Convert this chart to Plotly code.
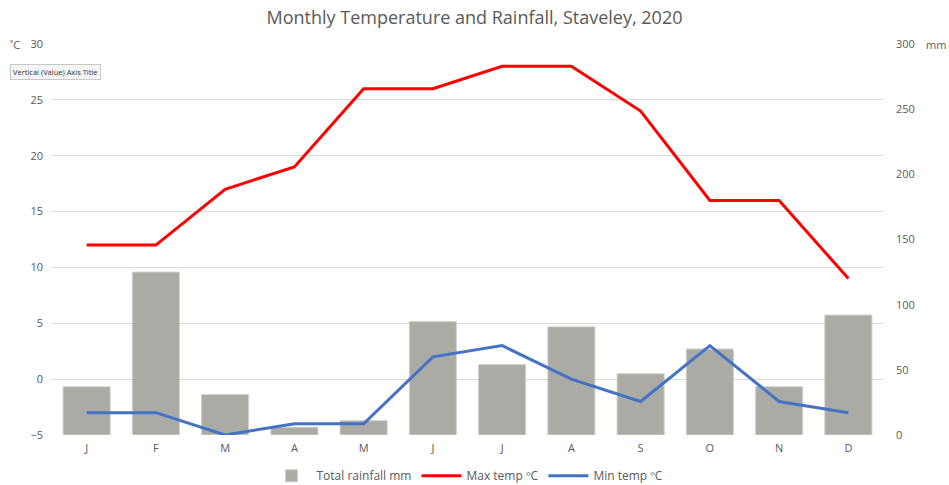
import plotly.graph_objects as go

months = ["J", "F", "M", "A", "M", "J", "J", "A", "S", "O", "N", "D"]
rainfall_mm = [37, 125, 31, 6, 11, 87, 54, 83, 47, 66, 37, 92]
max_temp = [12, 12, 17, 19, 26, 26, 28, 28, 24, 16, 16, 9]
min_temp = [-3, -3, -5, -4, -4, 2, 3, 0, -2, 3, -2, -3]

x = list(range(len(months)))
grey = "#595959"

fig = go.Figure()
fig.add_trace(go.Bar(
    x=x, y=rainfall_mm, name="Total rainfall mm", yaxis="y",
    marker=dict(color="#ABABA5", line=dict(color="#D0D0CC", width=1)),
))
fig.add_trace(go.Scatter(
    x=x, y=max_temp, name="Max temp ºC", mode="lines", yaxis="y2",
    line=dict(color="#FF0000", width=3),
))
fig.add_trace(go.Scatter(
    x=x, y=min_temp, name="Min temp ºC", mode="lines", yaxis="y2",
    line=dict(color="#4472C4", width=3),
))

fig.update_layout(
    width=949, height=485,
    margin=dict(l=52, r=66, t=44, b=50, autoexpand=False),
    paper_bgcolor="white", plot_bgcolor="white",
    font=dict(family="Open Sans, Liberation Sans, sans-serif", color=grey, size=11),
    title=dict(text="Monthly Temperature and Rainfall, Staveley, 2020",
               x=0.5, xanchor="center", y=0.963, yanchor="middle",
               font=dict(size=18, color=grey)),
    bargap=0.32,
    xaxis=dict(tickmode="array", tickvals=x, ticktext=months,
               range=[-0.5, 11.5], showgrid=False, zeroline=False,
               showline=False, ticks="", automargin=False, ticklabelstandoff=5,
               tickfont=dict(size=11, color=grey)),
    yaxis=dict(range=[0, 300], dtick=50, side="right",
               showgrid=False, zeroline=False, showline=False, ticks="",
               automargin=False, ticklabelstandoff=12,
               tickfont=dict(size=11, color=grey)),
    yaxis2=dict(range=[-5, 30], dtick=5, tick0=-5, overlaying="y", side="left",
                showgrid=True, gridcolor="#D9D9D9", gridwidth=1, zeroline=False,
                showline=False, ticks="", automargin=False, ticklabelstandoff=8,
                tickfont=dict(size=11, color=grey)),
    legend=dict(orientation="h", x=0.5, xanchor="center",
                yref="container", y=0.019, yanchor="middle",
                font=dict(size=12, color=grey), traceorder="normal",
                itemwidth=40),
    showlegend=True,
)

fig.add_annotation(text="˚C", xref="paper", yref="paper", x=-0.045, y=1.0,
                   xanchor="center", yanchor="middle", showarrow=False,
                   font=dict(size=11, color=grey))
fig.add_annotation(text="mm", xref="paper", yref="paper", x=1.064, y=1.0,
                   xanchor="center", yanchor="middle", showarrow=False,
                   font=dict(size=11, color=grey))
fig.add_annotation(text="Vertical (Value) Axis Title", xref="paper", yref="paper",
                   x=-0.051, y=0.928, xanchor="left", yanchor="middle",
                   showarrow=False, font=dict(size=7.5, color="#333333"),
                   bgcolor="#F5F5F5", bordercolor="#C8C8C8", borderwidth=1,
                   borderpad=2)

fig.write_html("out.html", config={"displayModeBar": False},
               post_script="document.body.style.margin='0';")
